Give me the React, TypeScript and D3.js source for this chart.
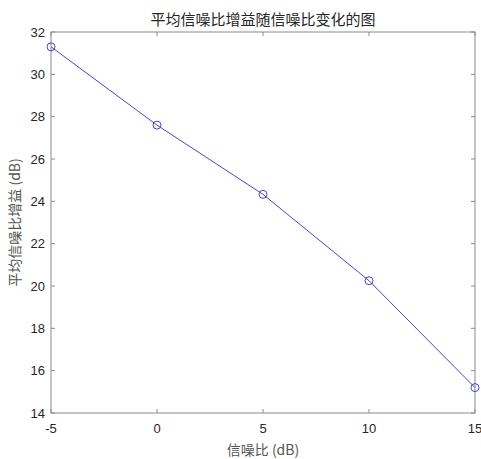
import React from "react";
import * as d3 from "d3";

const snr = [-5, 0, 5, 10, 15];
const gain = [31.3, 27.6, 24.33, 20.25, 15.2];
const xTicks = [-5, 0, 5, 10, 15];
const yTicks = [14, 16, 18, 20, 22, 24, 26, 28, 30, 32];

const W = 481, H = 459;
const M = { left: 51, right: 475, top: 32, bottom: 413 };

export default function App() {
  const x = d3.scaleLinear().domain([-5, 15]).range([M.left, M.right]);
  const y = d3.scaleLinear().domain([14, 32]).range([M.bottom, M.top]);
  const line = d3.line<number>().x((_, i) => x(snr[i])).y((d) => y(d));
  const axisColor = "#8a8a8a";
  const textColor = "#262626";
  const tickLen = 4;
  const font = "Liberation Sans, Arial, sans-serif";
  const cjk = "'Noto Sans CJK SC', sans-serif";
  return (
    <svg width={W} height={H} style={{ position: "absolute", left: 0, top: 0, background: "#fff" }}>
      <rect x={M.left} y={M.top} width={M.right - M.left} height={M.bottom - M.top} fill="#fff" stroke={axisColor} strokeWidth={1} />
      {xTicks.map((t) => (
        <g key={"x" + t}>
          <line x1={x(t)} x2={x(t)} y1={M.bottom} y2={M.bottom - tickLen} stroke={axisColor} />
          <line x1={x(t)} x2={x(t)} y1={M.top} y2={M.top + tickLen} stroke={axisColor} />
          <text x={x(t)} y={M.bottom + 20} textAnchor="middle" fontFamily={font} fontSize={13} fill={textColor}>{t}</text>
        </g>
      ))}
      {yTicks.map((t) => (
        <g key={"y" + t}>
          <line x1={M.left} x2={M.left + tickLen} y1={y(t)} y2={y(t)} stroke={axisColor} />
          <line x1={M.right} x2={M.right - tickLen} y1={y(t)} y2={y(t)} stroke={axisColor} />
          <text x={M.left - 6} y={y(t) + 4.5} textAnchor="end" fontFamily={font} fontSize={13} fill={textColor}>{t}</text>
        </g>
      ))}
      <path d={line(gain) || ""} fill="none" stroke="#4646c8" strokeWidth={1} />
      {gain.map((g, i) => (
        <circle key={i} cx={x(snr[i])} cy={y(g)} r={4} fill="none" stroke="#4646c8" strokeWidth={1} />
      ))}
      <text x={(M.left + M.right) / 2} y={25} textAnchor="middle" fontFamily={cjk} fontSize={15} fill={textColor}>平均信噪比增益随信噪比变化的图</text>
      <text x={(M.left + M.right) / 2} y={455} textAnchor="middle" fontFamily={cjk} fontSize={14} fill="#555">信噪比 (dB)</text>
      <text transform={`translate(20,${(M.top + M.bottom) / 2}) rotate(-90)`} textAnchor="middle" fontFamily={cjk} fontSize={14} fill="#555">平均信噪比增益 (dB)</text>
    </svg>
  );
}
